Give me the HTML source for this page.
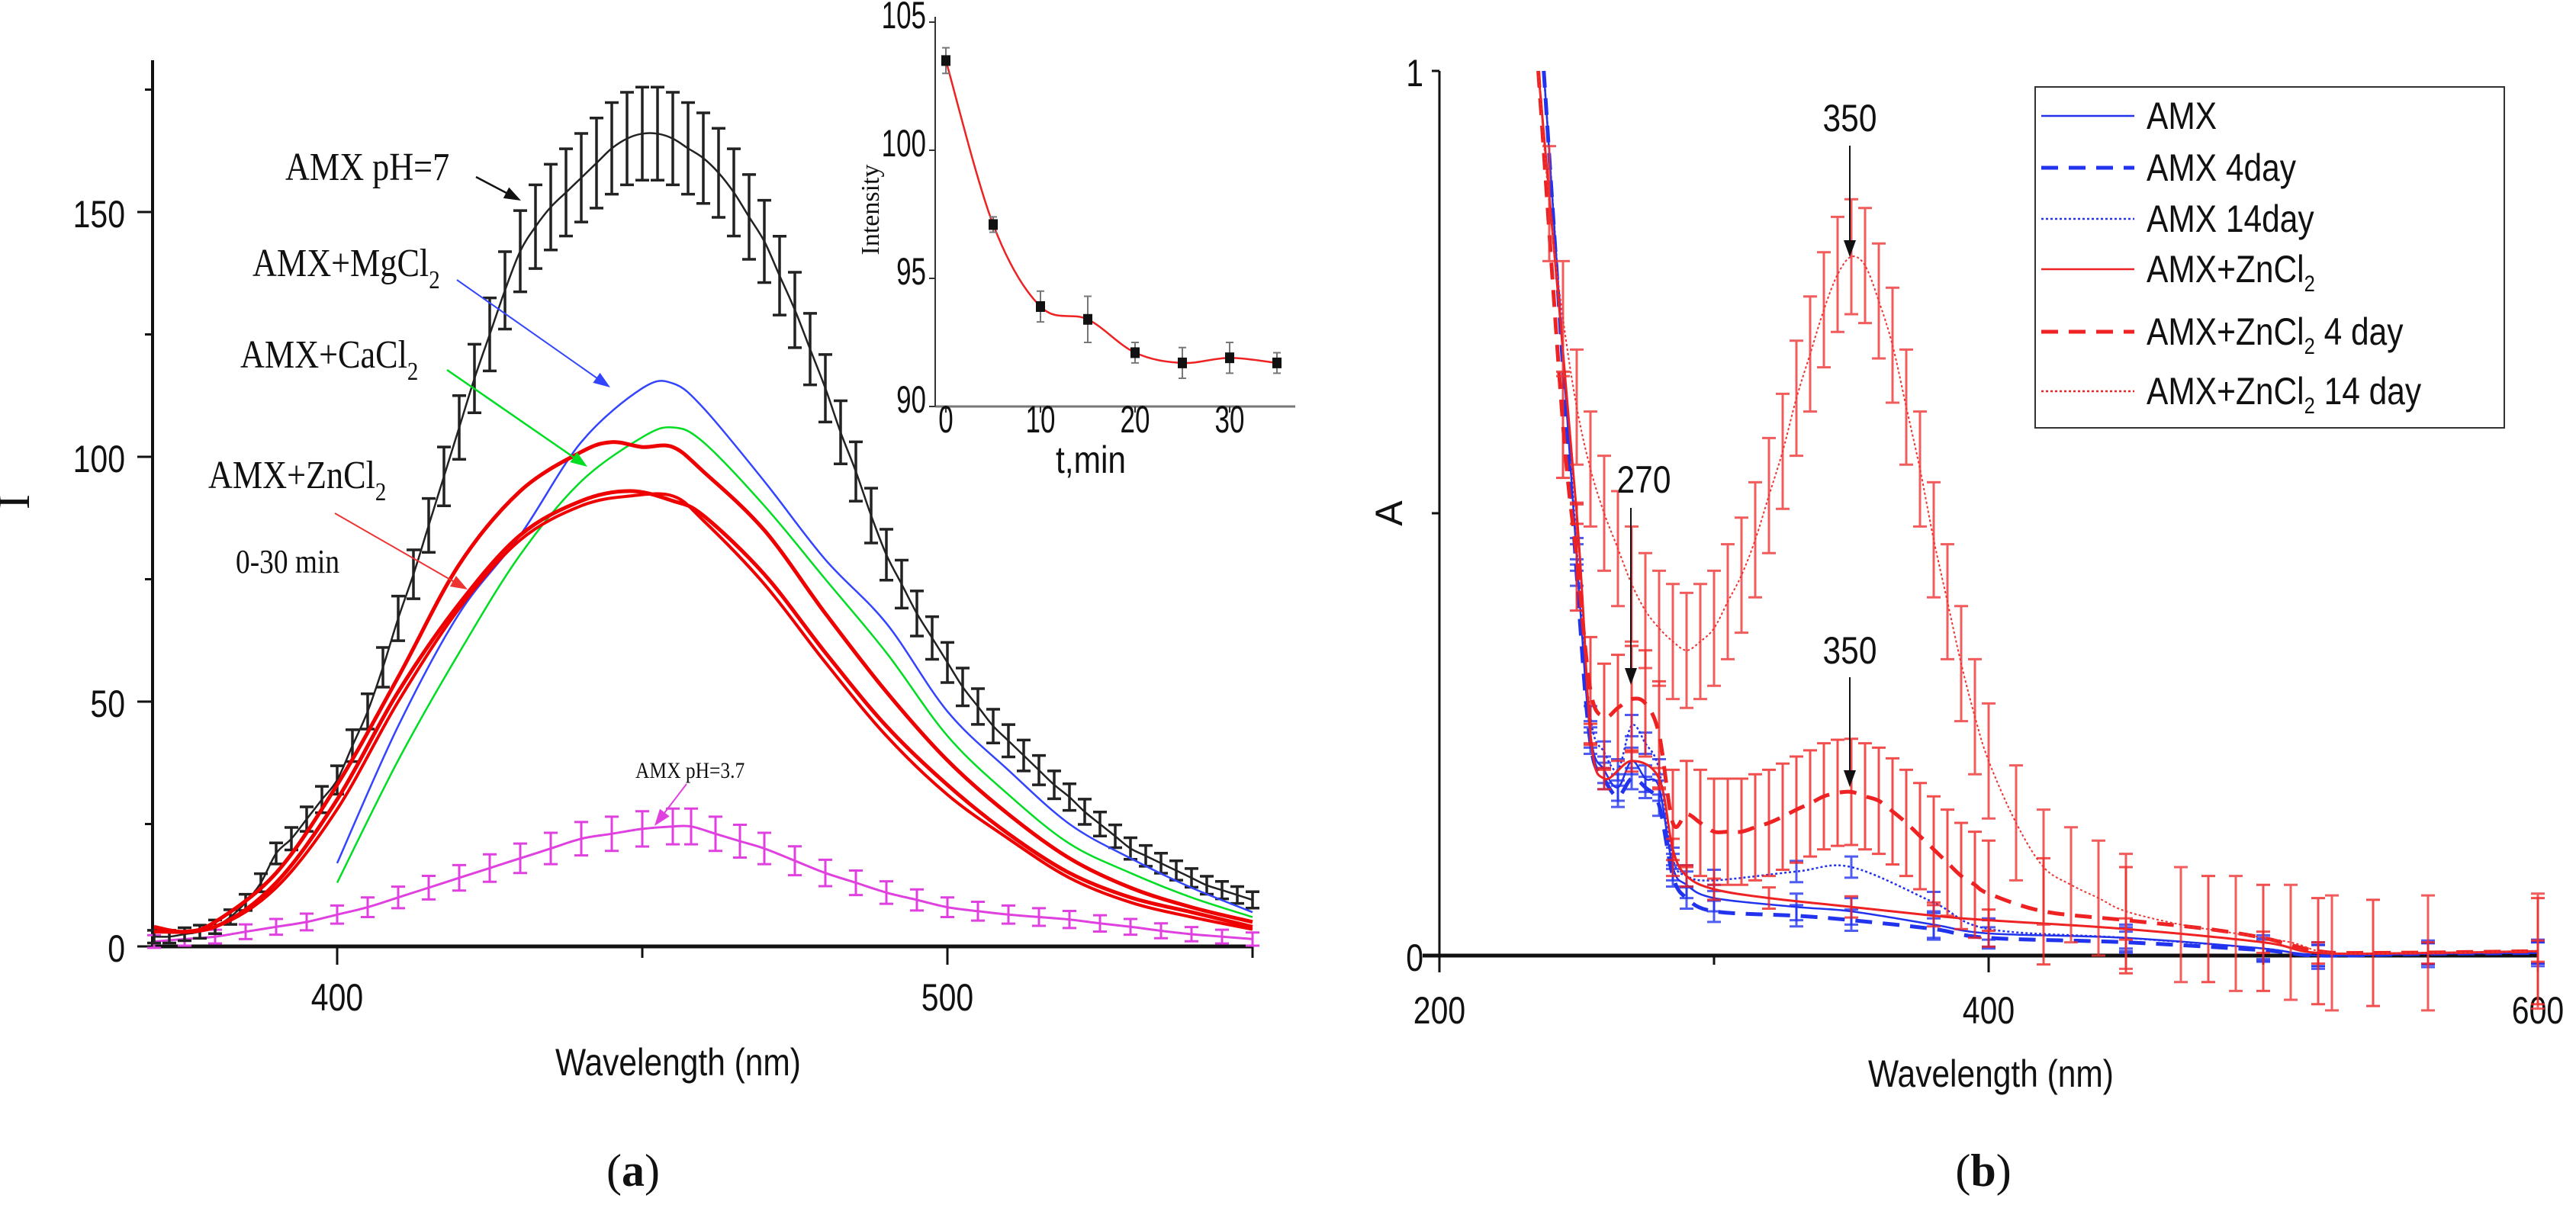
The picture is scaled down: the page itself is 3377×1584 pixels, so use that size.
<!DOCTYPE html>
<html><head><meta charset="utf-8"><style>
html,body{margin:0;padding:0;background:#fff}
svg{display:block}
.tk{font-family:"Liberation Sans",sans-serif;font-size:50px;fill:#111}
.sr{font-family:"Liberation Serif",serif;fill:#111}
</style></head><body>
<svg id="fig" width="3377" height="1584" viewBox="0 0 3377 1584" xmlns="http://www.w3.org/2000/svg">
<g id="pa"></g>
<g id="pb"></g>
</svg>
<script>
// ---------- Panel (a) data ----------
const aBlackX=[370,372.5,375,377.5,380,382.5,385,387.5,390,392.5,395,397.5,400,402.5,405,407.5,410,412.5,415,417.5,420,422.5,425,427.5,430,432.5,435,437.5,440,442.5,445,447.5,450,452.5,455,457.5,460,462.5,465,467.5,470,472.5,475,477.5,480,482.5,485,487.5,490,492.5,495,497.5,500,502.5,505,507.5,510,512.5,515,517.5,520,522.5,525,527.5,530,532.5,535,537.5,540,542.5,545,547.5,550];
const aBlackY=[2,2,2.5,3,4,6,9,13,19,22,26,30,34,41,48,57,67,76,86,96,106,116,125,134,142,147,151,154,157,160,163,165,166,166,165,163,161,158,154,149,144,137,130,122,114,105,97,88,80,74,68,63,58,53,49,45,42,39,36,33,30.5,27.5,25,22.5,20,18.5,17,15.5,14,12.5,11.5,10.5,9.5];
const aBlueX=[400,410,420,430,440,450,455,460,470,480,490,500,510,520,530,540,550];
const aBlueY=[17,45,68,84,103,114,115,110,95,79,66,48,36,25,18,12,7];
const aGreenX=[400,410,420,430,440,450,455,460,470,480,490,500,510,520,530,540,550];
const aGreenY=[13,38,60,80,95,104,106,103,90,75,60,43,31,21,15,10,6];
const aRed1X=[370,375,380,390,400,410,420,430,440,445,450,455,460,470,480,490,500,510,520,530,540,550];
const aRed1Y=[4,3,5,15,33,55,78,93,101,103,102,102,97,85,68,52,38,27,18,12,8,5];
const aRed2X=[370,380,390,400,410,420,430,440,448,455,460,470,480,490,500,510,520,530,540,550];
const aRed2Y=[3,4,13,30,52,70,84,91,93,91,88,76,60,45,33,23,15,10,7,4];
const aRed3Y=[3,4,12,28,50,69,83,90,92,92,87,74,58,43,31,22,14,9,6,3.5];
const aMagX=[370,375,380,385,390,395,400,405,410,415,420,425,430,435,440,445,450,455,458,462,466,470,475,480,485,490,495,500,505,510,515,520,525,530,535,540,545,550];
const aMagY=[1,1.5,2,3,4,5,6.5,8,10,12,14,16,18,20,22,23,24,24.5,24.5,23,21.5,20,17.5,15,13,11,9.5,8,7.2,6.5,6,5.5,4.7,4,3.2,2.5,2,1.5];
const aXTicks=[400,500];
const aYTicks=[0,50,100,150];
// inset
const inT=[0,5,10,15,20,25,30,35];
const inI=[103.5,97.1,93.9,93.4,92.1,91.7,91.9,91.7];
const inE=[0.5,0.3,0.6,0.9,0.4,0.6,0.6,0.4];
const inXTicks=[0,10,20,30];
const inYTicks=[90,95,100,105];
// ---------- Panel (b) data ----------
const bX14=[236,240,245,250,255,260,265,270,275,280,285,290,295,300,305,310,315,320,325,330,335,340,345,350,355,360,365,370,375,380,385,390,395,400,410,420,430,440,450,470,490,510,525,560,600];
const bZn14=[1.0,0.85,0.72,0.62,0.55,0.5,0.46,0.42,0.39,0.37,0.355,0.345,0.355,0.37,0.4,0.43,0.47,0.52,0.57,0.63,0.68,0.73,0.77,0.79,0.78,0.74,0.69,0.62,0.55,0.47,0.4,0.33,0.27,0.22,0.15,0.1,0.08,0.065,0.05,0.035,0.025,0.015,0.003,0.003,0.005];
const bX4=[236,245,250,255,260,265,270,275,280,285,290,295,300,305,310,315,320,325,330,335,340,345,350,355,360,365,370,375,380,385,390,395,400,420,450,480,500,520,540,600];
const bZn4=[1.0,0.6,0.45,0.3,0.27,0.28,0.29,0.285,0.25,0.15,0.16,0.15,0.14,0.14,0.14,0.145,0.15,0.157,0.165,0.172,0.18,0.184,0.185,0.18,0.175,0.163,0.15,0.135,0.12,0.105,0.09,0.08,0.07,0.05,0.04,0.03,0.02,0.005,0.003,0.005];
const bXZn=[236,250,255,260,270,280,285,290,300,320,350,380,400,450,500,520,560,600];
const bZn=[1.0,0.5,0.25,0.2,0.22,0.2,0.12,0.09,0.075,0.065,0.055,0.045,0.04,0.03,0.015,0.003,0.003,0.005];
const bXA=[238,250,255,260,265,270,275,280,285,290,300,330,350,380,400,450,500,520,560,600];
const bAmx=[1.0,0.45,0.25,0.21,0.19,0.22,0.2,0.19,0.1,0.08,0.065,0.055,0.05,0.035,0.025,0.02,0.008,0.0,0.002,0.003];
const bAmx4=[1.0,0.43,0.24,0.2,0.18,0.2,0.19,0.17,0.09,0.065,0.05,0.045,0.04,0.03,0.02,0.015,0.006,0.0,0.002,0.003];
const bAmx14=[1.0,0.46,0.27,0.23,0.21,0.26,0.24,0.21,0.11,0.09,0.085,0.095,0.1,0.06,0.03,0.02,0.008,0.0,0.002,0.003];
const bXTicks=[200,400,600];
const bYTicks=[0,0.5,1];
const bYLabels=["0","A","1"];

const NS="http://www.w3.org/2000/svg";
function mk(parent,tag,attrs){const e=document.createElementNS(NS,tag);for(const k in attrs)e.setAttribute(k,attrs[k]);parent.appendChild(e);return e;}
function smooth(pts){let d="M"+pts[0][0].toFixed(1)+","+pts[0][1].toFixed(1);
 for(let i=0;i<pts.length-1;i++){const p0=pts[i-1]||pts[i],p1=pts[i],p2=pts[i+1],p3=pts[i+2]||p2;
  const c1=[p1[0]+(p2[0]-p0[0])/6,p1[1]+(p2[1]-p0[1])/6],c2=[p2[0]-(p3[0]-p1[0])/6,p2[1]-(p3[1]-p1[1])/6];
  d+=" C"+c1[0].toFixed(1)+","+c1[1].toFixed(1)+" "+c2[0].toFixed(1)+","+c2[1].toFixed(1)+" "+p2[0].toFixed(1)+","+p2[1].toFixed(1);}
 return d;}
function ntext(parent,x,y,anchor,size,txt,sx){ // narrow text
 const e=mk(parent,'text',{x:0,y:0,'text-anchor':anchor,class:'tk','font-size':size,transform:`translate(${x},${y}) scale(${sx||0.82},1)`});e.innerHTML=txt;return e;}

// ===== Panel a =====
const pa=document.getElementById('pa');
const ax=v=>442+(v-400)*8, ay=v=>1241-v*6.42;
let e;
e=mk(pa,'line',{x1:200,y1:1241,x2:1641,y2:1241,stroke:'#111','stroke-width':5});

e=mk(pa,'line',{x1:200,y1:79,x2:200,y2:1243,stroke:'#111','stroke-width':4});

[450,550].forEach(v=>mk(pa,'line',{x1:ax(v),y1:1241,x2:ax(v),y2:1256,stroke:'#111','stroke-width':3}));
aXTicks.forEach(v=>{mk(pa,'line',{x1:ax(v),y1:1241,x2:ax(v),y2:1265,stroke:'#111','stroke-width':3});
 e=ntext(pa,ax(v),1325,'middle',56,v);
 });
[25,75,125,175].forEach(v=>mk(pa,'line',{x1:190,y1:ay(v),x2:200,y2:ay(v),stroke:'#111','stroke-width':3}));
aYTicks.forEach(v=>{mk(pa,'line',{x1:180,y1:ay(v),x2:200,y2:ay(v),stroke:'#111','stroke-width':3});
 e=ntext(pa,164,ay(v)+20,'end',56,v);
 });
e=ntext(pa,889,1410,'middle',66,'Wavelength (nm)',0.85);

e=mk(pa,'text',{x:38,y:658,'text-anchor':'middle',class:'sr','font-size':60,transform:'rotate(-90 38 658)'});e.textContent='I';

e=mk(pa,'text',{x:830,y:1555,'text-anchor':'middle',class:'sr','font-size':60});e.innerHTML='(<tspan font-weight="bold">a</tspan>)';


function aSeries(xs,ys,color,w,name,err,bw){
 const pts=xs.map((x,i)=>[ax(x),ay(ys[i])]);
 if(err){xs.forEach((x,i)=>{const px=ax(x),s=ys[i]*err+1.2;
  mk(pa,'path',{d:`M${px},${ay(ys[i]-s)}V${ay(ys[i]+s)}M${px-9},${ay(ys[i]-s)}h18M${px-9},${ay(ys[i]+s)}h18`,stroke:color,'stroke-width':bw||3,fill:'none'});});}
 e=mk(pa,'path',{d:smooth(pts),stroke:color,'stroke-width':w,fill:'none'});
 }
aSeries(aMagX,aMagY,'#e040e0',3,'series-amx-ph3-7',0.1,3);
aSeries(aBlackX,aBlackY,'#222',2.5,'series-amx-ph7',0.05,3.5);
aSeries(aBlueX,aBlueY,'#3344ff',2.5,'series-amx-mgcl2');
aSeries(aGreenX,aGreenY,'#00dd22',2.5,'series-amx-cacl2');
aSeries(aRed1X,aRed1Y,'#ee0000',5,'series-amx-zncl2-0min');
aSeries(aRed2X,aRed2Y,'#ee0000',5,'series-amx-zncl2-10min');
aSeries(aRed2X,aRed3Y,'#ee0000',4,'series-amx-zncl2-30min');

function ann(x,y,txt,size,name){e=mk(pa,'text',{x:0,y:0,class:'sr','font-size':size,transform:`translate(${x},${y}) scale(0.85,1)`});e.innerHTML=txt;
 }
ann(374,236,'AMX pH=7',52,'label-amx-ph7');
ann(331,362,'AMX+MgCl<tspan font-size="34" dy="16">2</tspan>',52,'label-amx-mgcl2');
ann(315,482,'AMX+CaCl<tspan font-size="34" dy="16">2</tspan>',52,'label-amx-cacl2');
ann(273,640,'AMX+ZnCl<tspan font-size="34" dy="16">2</tspan>',52,'label-amx-zncl2');
ann(309,751,'0-30 min',44,'label-0-30-min');
ann(833,1020,'AMX pH=3.7',30,'label-amx-ph3-7');
function arrow(g,x1,y1,x2,y2,c,w){const a=Math.atan2(y2-y1,x2-x1),L=22,W=8;
 mk(g,'line',{x1:x1,y1:y1,x2:x2-Math.cos(a)*L*0.8,y2:y2-Math.sin(a)*L*0.8,stroke:c,'stroke-width':w});
 const bx=x2-Math.cos(a)*L,by=y2-Math.sin(a)*L;
 mk(g,'path',{d:`M${x2},${y2}L${bx-Math.sin(a)*W},${by+Math.cos(a)*W}L${bx+Math.sin(a)*W},${by-Math.cos(a)*W}z`,fill:c});}
arrow(pa,624,232,683,263,'#111',2.5);
arrow(pa,599,367,800,508,'#3344ff',2);
arrow(pa,586,485,770,612,'#00dd22',2.5);
arrow(pa,439,673,613,773,'#ee3333',2);
arrow(pa,900,1028,858,1083,'#e040e0',2);

// inset
const ix=v=>1240+v*12.4, iy=v=>533-(v-90)*33.6;
const ins=mk(pa,'g',{});
mk(ins,'line',{x1:1226,y1:533,x2:1698,y2:533,stroke:'#777','stroke-width':3});
mk(ins,'line',{x1:1226,y1:22,x2:1226,y2:533,stroke:'#333','stroke-width':2});
inXTicks.forEach(v=>{mk(ins,'line',{x1:ix(v),y1:533,x2:ix(v),y2:541,stroke:'#333','stroke-width':2});
 e=ntext(ins,ix(v),567,'middle',24,v,0.7);
 });
inYTicks.forEach(v=>{mk(ins,'line',{x1:1218,y1:iy(v),x2:1226,y2:iy(v),stroke:'#333','stroke-width':2});
 e=ntext(ins,1214,iy(v)+8,'end',24,v,0.7);
 });
e=mk(ins,'text',{x:1152,y:275,'text-anchor':'middle',class:'sr','font-size':34,transform:'rotate(-90 1152 275)'});e.textContent='Intensity';

e=ntext(ins,1430,620,'middle',36,'t,min',0.85);

e=mk(ins,'path',{d:smooth(inT.map((t,i)=>[ix(t),iy(inI[i])])),stroke:'#ee2222','stroke-width':2.5,fill:'none'});

inT.forEach((t,i)=>{const px=ix(t);
 mk(ins,'path',{d:`M${px},${iy(inI[i]-inE[i])}V${iy(inI[i]+inE[i])}M${px-5},${iy(inI[i]-inE[i])}h10M${px-5},${iy(inI[i]+inE[i])}h10`,stroke:'#777','stroke-width':2,fill:'none'});
 e=mk(ins,'rect',{x:px-6,y:iy(inI[i])-7,width:12,height:14,fill:'#111'});
 });

// ===== Panel b =====
const pb=document.getElementById('pb');
const bx=v=>1887+(v-200)*3.6, by=v=>1253-v*1160;
e=mk(pb,'line',{x1:1865,y1:1253,x2:3326,y2:1253,stroke:'#111','stroke-width':5});

e=mk(pb,'line',{x1:1887,y1:93,x2:1887,y2:1275,stroke:'#111','stroke-width':3});

[300,500].forEach(v=>mk(pb,'line',{x1:bx(v),y1:1253,x2:bx(v),y2:1265,stroke:'#111','stroke-width':3}));
bXTicks.forEach(v=>{mk(pb,'line',{x1:bx(v),y1:1253,x2:bx(v),y2:1275,stroke:'#111','stroke-width':3});
 e=ntext(pb,bx(v),1342,'middle',56,v);
 });
bYTicks.forEach((v,i)=>{mk(pb,'line',{x1:1877,y1:by(v),x2:1887,y2:by(v),stroke:'#111','stroke-width':3});
 if(i===1){e=mk(pb,'text',{x:1838,y:by(v),'text-anchor':'middle',class:'tk','font-size':56,transform:`rotate(-90 1838 ${by(v)})`});e.textContent=bYLabels[i];}
 else{e=ntext(pb,1866,by(v)+20,'end',56,bYLabels[i]);}
 });
e=ntext(pb,2610,1425,'middle',66,'Wavelength (nm)',0.85);

e=mk(pb,'text',{x:2600,y:1555,'text-anchor':'middle',class:'sr','font-size':60});e.innerHTML='(<tspan font-weight="bold">b</tspan>)';


function bSeries(xs,ys,color,w,dash,name,err){
 xs.forEach((x,i)=>{if(x<240)return;const px=bx(x),s=err;
  mk(pb,'path',{d:`M${px},${by(ys[i]-s)}V${by(ys[i]+s)}M${px-9},${by(ys[i]-s)}h18M${px-9},${by(ys[i]+s)}h18`,stroke:color,'stroke-width':3,fill:'none','stroke-opacity':0.8});});
 e=mk(pb,'path',{d:smooth(xs.map((x,i)=>[bx(x),by(ys[i])])),stroke:color,'stroke-width':w,fill:'none','stroke-dasharray':dash});
 }
bSeries(bXA,bAmx,'#2233ee',2.5,'none','series-amx',0.015);
bSeries(bXA,bAmx4,'#2233ee',5,'22 14','series-amx-4day',0.012);
bSeries(bXA,bAmx14,'#2233ee',2.5,'3 3','series-amx-14day',0.012);
bSeries(bXZn,bZn,'#ee2222',3,'none','series-amx-zncl2',0.012);
bSeries(bX4,bZn4,'#ee2222',5,'22 14','series-amx-zncl2-4day',0.06);
bSeries(bX14,bZn14,'#ee3333',2,'3 3','series-amx-zncl2-14day',0.065);

function bann(x,y,t,name){e=ntext(pb,x,y,'middle',60,t,0.85);
 }
bann(2425,172,'350','label-peak-350-14day');
arrow(pb,2425,191,2425,337,'#111',2);
bann(2155,646,'270','label-peak-270');
arrow(pb,2138,666,2138,898,'#111',2);
bann(2425,870,'350','label-peak-350-4day');
arrow(pb,2425,888,2425,1032,'#111',2);

// legend
const lg=mk(pb,'g',{});
mk(lg,'rect',{x:2668,y:114,width:615,height:447,fill:'#fff',stroke:'#333','stroke-width':2});
const legNames=['AMX','AMX 4day','AMX 14day','AMX+ZnCl<tspan font-size="30" dy="12">2</tspan>','AMX+ZnCl<tspan font-size="30" dy="12">2</tspan><tspan dy="-12"> 4 day</tspan>','AMX+ZnCl<tspan font-size="30" dy="12">2</tspan><tspan dy="-12"> 14 day</tspan>'];
const legY=[152,220,287,353,435,513];
const legC=['#2233ee','#2233ee','#2233ee','#ee2222','#ee2222','#ee2222'];
const legD=['none','22 14','3 3','none','22 14','3 3'];
const legW=[2.5,5,2.5,2.5,5,2.5];
legNames.forEach((n,i)=>{
 e=mk(lg,'line',{x1:2676,y1:legY[i],x2:2798,y2:legY[i],stroke:legC[i],'stroke-width':legW[i],'stroke-dasharray':legD[i]});
 
 e=ntext(lg,2814,legY[i]+17,'start',48,n,0.85);
 });
</script>
</body></html>
